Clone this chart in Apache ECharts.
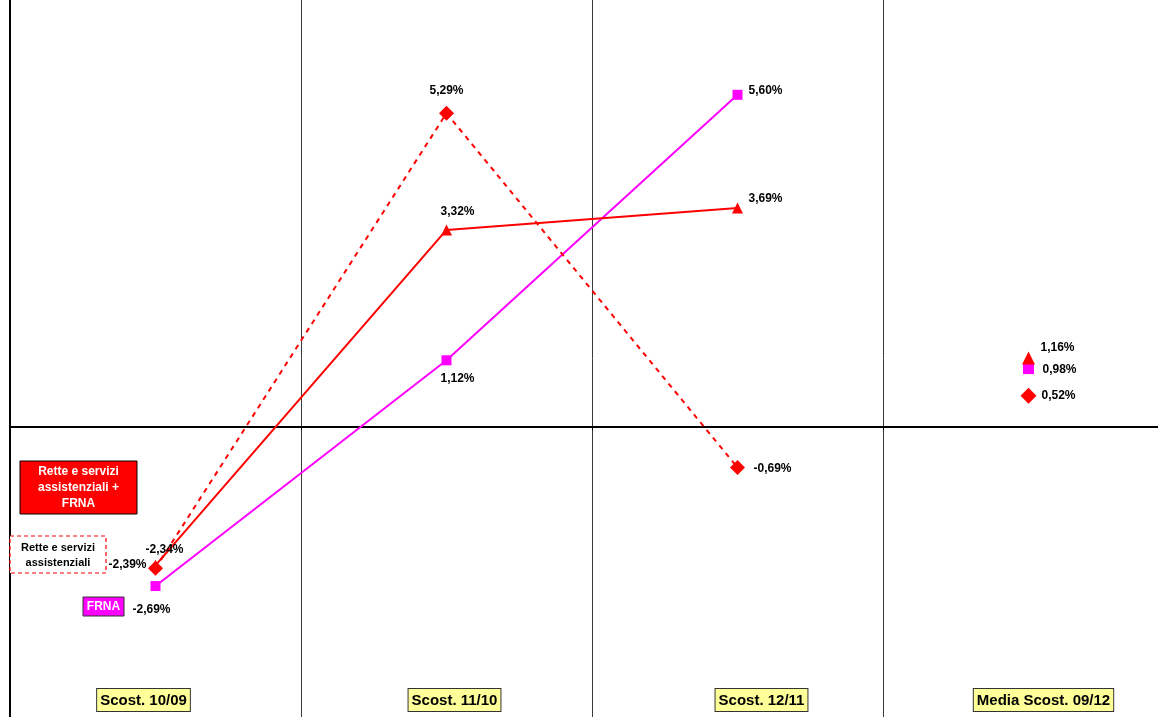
<!DOCTYPE html>
<html>
<head>
<meta charset="utf-8">
<script src="https://cdn.jsdelivr.net/npm/echarts@6/dist/echarts.min.js"></script>
<style>
  html, body { margin: 0; padding: 0; background: #fff; }
  #chart { width: 1158px; height: 717px; }
</style>
</head>
<body>
<div id="chart"></div>
<script>
// Categories on the x axis (the last one is the 2009-2012 average, shown as loose points)
const categories = ['Scost. 10/09', 'Scost. 11/10', 'Scost. 12/11', 'Media Scost. 09/12'];

// Percentage changes per series
const retteServiziFrna = [-2.34, 3.32, 3.69, 1.16];
const retteServizi = [-2.39, 5.29, -0.69, 0.52];
const frna = [-2.69, 1.12, 5.60, 0.98];

// Index of the average category (not joined to the yearly lines)
const MEDIA = 3;

// Value label placement around each mark [dx, dy]
const offsetsRetteFrna = [[9, -16], [11, -18], [28, -9], [29, -10]];
const offsetsRette = [[-28, -4], [0, -22], [35, 1], [30, 0]];
const offsetsFrna = [[-4, 24], [11, 18], [28, -4], [31, 1]];

// Horizontal nudge of the category boxes
const categoryShift = [-12, 8, 24, 15];

const fmt = v => v.toFixed(2).replace('.', ',') + '%';

const valueLabel = {
  show: true,
  position: 'inside',
  align: 'center',
  verticalAlign: 'middle',
  color: '#000',
  fontFamily: '"Liberation Sans", Arial, sans-serif',
  fontWeight: 'bold',
  fontSize: 12,
  textBorderWidth: 0,
  formatter: p => fmt(Array.isArray(p.value) ? p.value[1] : p.value)
};

function buildSeries(name, values, color, symbol, size, mediaSize, lineType, offsets) {
  const line = {
    name: name,
    type: 'line',
    xAxisIndex: 0,
    data: values.map((v, i) => i < MEDIA
      ? { value: v, label: { offset: offsets[i] } }
      : '-'),
    symbol: symbol,
    symbolSize: size,
    showAllSymbol: true,
    lineStyle: { color: color, width: 2, type: lineType },
    itemStyle: { color: color, opacity: 1 },
    label: valueLabel,
    emphasis: { disabled: true }
  };
  const media = {
    name: name,
    type: 'scatter',
    xAxisIndex: 0,
    data: [{ value: [MEDIA, values[MEDIA]], label: { offset: offsets[MEDIA] } }],
    symbol: symbol,
    symbolSize: mediaSize,
    itemStyle: { color: color, opacity: 1 },
    label: valueLabel,
    emphasis: { disabled: true }
  };
  return [line, media];
}

const rich = {
  box: {
    backgroundColor: '#FFFF99',
    borderColor: '#333',
    borderWidth: 1,
    padding: [4, 3, 3, 3],
    color: '#000',
    fontFamily: '"Liberation Sans", Arial, sans-serif',
    fontWeight: 'bold',
    fontSize: 15
  }
};
categoryShift.forEach((s, i) => { rich['g' + i] = { width: Math.abs(2 * s) }; });

const chart = echarts.init(document.getElementById('chart'), null, { renderer: 'canvas' });

chart.setOption({
  animation: false,
  backgroundColor: '#fff',
  grid: { left: 10, top: 0, width: 1164, height: 717, containLabel: false, outerBoundsMode: 'none' },
  xAxis: [
    {
      type: 'category',
      data: categories,
      position: 'bottom',
      boundaryGap: true,
      axisLine: { show: false, onZero: false },
      axisTick: { show: false },
      splitLine: { show: true, interval: 0, lineStyle: { color: '#3a3a3a', width: 1 } },
      axisLabel: {
        show: true,
        inside: true,
        interval: 0,
        margin: 6,
        formatter: (val, idx) => {
          const s = categoryShift[idx];
          return s < 0 ? '{box|' + val + '}{g' + idx + '| }' : '{g' + idx + '| }{box|' + val + '}';
        },
        rich: rich
      }
    },
    {
      type: 'category',
      data: categories,
      position: 'bottom',
      boundaryGap: true,
      axisLine: { show: true, onZero: true, lineStyle: { color: '#000', width: 2 } },
      axisTick: { show: true, length: 4, inside: false, lineStyle: { color: '#000', width: 1 } },
      axisLabel: { show: false },
      splitLine: { show: false }
    }
  ],
  yAxis: {
    type: 'value',
    min: -4.9,
    max: 7.2,
    axisLine: { show: true, lineStyle: { color: '#000', width: 2 } },
    axisTick: { show: false },
    axisLabel: { show: false },
    splitLine: { show: false }
  },
  series: [
    ...buildSeries('FRNA', frna, '#FF00FF', 'rect', 10, 11, 'solid', offsetsFrna),
    ...buildSeries('Rette e servizi assistenziali + FRNA', retteServiziFrna, '#FF0000', 'triangle', 11, 13, 'solid', offsetsRetteFrna),
    ...buildSeries('Rette e servizi assistenziali', retteServizi, '#FF0000', 'diamond', 15, 16, [5, 5], offsetsRette)
  ],
  graphic: [
    {
      type: 'rect', z: 100,
      shape: { x: 20, y: 461, width: 117, height: 53 },
      style: { fill: '#FF0000', stroke: '#000', lineWidth: 1 }
    },
    {
      type: 'text', z: 101, x: 78.5, y: 488,
      style: {
        text: 'Rette e servizi\nassistenziali +\nFRNA',
        align: 'center', verticalAlign: 'middle',
        textAlign: 'center', textVerticalAlign: 'middle',
        font: 'bold 12px "Liberation Sans", Arial, sans-serif',
        lineHeight: 16, fill: '#fff'
      }
    },
    {
      type: 'rect', z: 100,
      shape: { x: 10, y: 536, width: 96, height: 37 },
      style: { fill: '#fff', stroke: '#FF0000', lineWidth: 1.2, lineDash: [4, 3] }
    },
    {
      type: 'text', z: 101, x: 58, y: 555,
      style: {
        text: 'Rette e servizi\nassistenziali',
        align: 'center', verticalAlign: 'middle',
        textAlign: 'center', textVerticalAlign: 'middle',
        font: 'bold 11px "Liberation Sans", Arial, sans-serif',
        lineHeight: 15, fill: '#000'
      }
    },
    {
      type: 'rect', z: 100,
      shape: { x: 83, y: 597, width: 41, height: 19 },
      style: { fill: '#FF00FF', stroke: '#333', lineWidth: 1 }
    },
    {
      type: 'text', z: 101, x: 103.5, y: 607,
      style: {
        text: 'FRNA',
        align: 'center', verticalAlign: 'middle',
        textAlign: 'center', textVerticalAlign: 'middle',
        font: 'bold 12px "Liberation Sans", Arial, sans-serif',
        fill: '#fff'
      }
    }
  ]
});
</script>
</body>
</html>
